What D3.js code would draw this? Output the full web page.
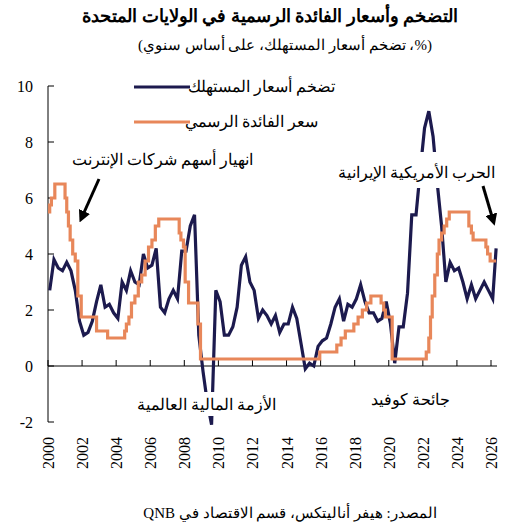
<!DOCTYPE html><html><head><meta charset="utf-8"><script src="https://cdn.jsdelivr.net/npm/d3@7"></script>
<style>body{margin:0;background:#fff}text{font-family:"Liberation Serif","DejaVu Serif",serif}</style></head><body><svg id="c" width="519" height="526"></svg>
<script>
const cpiYears=[];for(let y=2000;y<=2026;y++)for(let q=0;q<4;q++)cpiYears.push(y+q*0.25+0.1);
const cpiValues=[2.7,3.8,3.5,3.4,3.7,3.4,2.7,1.6,1.1,1.2,1.6,2.3,2.9,2.1,2.2,1.9,1.7,3.0,2.7,3.4,3.0,2.9,4.0,3.5,3.6,4.2,2.1,1.9,2.4,2.7,2.4,4.1,4.1,5.0,5.4,1.1,-0.2,-1.3,-2.1,2.7,2.3,1.1,1.1,1.4,2.1,3.6,3.9,3.0,2.7,1.7,2.0,1.8,1.5,1.8,1.2,1.5,1.5,2.1,1.7,0.8,-0.1,0.1,0.0,0.7,0.9,1.0,1.5,2.1,2.4,1.6,2.2,2.1,2.4,2.9,2.3,1.9,1.9,1.6,1.7,2.3,1.5,0.1,1.4,1.4,2.6,5.4,5.4,7.0,8.5,9.1,8.2,6.5,5.0,3.0,3.7,3.4,3.5,3.0,2.4,2.9,2.4,2.7,3.0,2.7,2.4,4.2];
const cpiLen=cpiValues.length;
const fedDates=[2000,2000.1,2000.2,2000.4,2001.0,2001.1,2001.2,2001.3,2001.45,2001.6,2001.75,2001.95,2002.85,2003.5,2004.5,2004.6,2004.75,2004.9,2005.1,2005.3,2005.5,2005.7,2005.9,2006.1,2006.3,2006.5,2007.7,2007.8,2007.95,2008.05,2008.25,2008.8,2008.95,2015.95,2016.95,2017.2,2017.45,2017.95,2018.2,2018.45,2018.7,2018.95,2019.55,2019.7,2019.8,2020.2,2022.2,2022.35,2022.45,2022.55,2022.7,2022.85,2022.95,2023.1,2023.25,2023.4,2023.55,2024.7,2024.85,2024.95,2025.7,2025.8,2025.95,2026.3];
const fedValues=[5.5,5.75,6.0,6.5,6.0,5.5,5.0,4.5,4.0,3.75,2.5,1.75,1.25,1.0,1.25,1.5,1.75,2.25,2.5,3.0,3.25,3.75,4.25,4.5,5.0,5.25,4.75,4.5,4.25,3.0,2.25,1.5,0.25,0.5,0.75,1.0,1.25,1.5,1.75,2.0,2.25,2.5,2.25,2.0,1.75,0.25,0.5,1.0,1.75,2.5,3.25,4.0,4.5,4.75,5.0,5.25,5.5,5.0,4.75,4.5,4.25,4.0,3.75,3.75];
const yTicks=[-2,0,2,4,6,8,10];
const xTicks=d3.range(2000,2027,2);
const svg=d3.select("#c");
const x=d3.scaleLinear().domain([2000,2026]).range([48,491]);
const y=d3.scaleLinear().domain([-2,10]).range([422,86]);
svg.append("text").attr("x",270).attr("y",22).attr("text-anchor","middle").attr("font-size",18).attr("font-weight","bold").text("التضخم وأسعار الفائدة الرسمية في الولايات المتحدة");
svg.append("text").attr("x",285).attr("y",50).attr("text-anchor","middle").attr("direction","rtl").attr("font-size",15).text("(%، تضخم أسعار المستهلك، على أساس سنوي)");
svg.append("line").attr("x1",48).attr("x2",48).attr("y1",y(10)).attr("y2",y(-2)).attr("stroke","#000");
yTicks.forEach(t=>{svg.append("line").attr("x1",48).attr("x2",54).attr("y1",y(t)).attr("y2",y(t)).attr("stroke","#000");
svg.append("text").attr("x",33).attr("y",y(t)+6).attr("text-anchor","end").attr("font-size",16).text(t);});
svg.append("line").attr("x1",48).attr("x2",497).attr("y1",y(0)).attr("y2",y(0)).attr("stroke","#000");
xTicks.forEach(t=>{svg.append("line").attr("x1",x(t)).attr("x2",x(t)).attr("y1",y(0)).attr("y2",y(0)-6).attr("stroke","#000");
svg.append("text").attr("transform",`translate(${x(t)+6},${437}) rotate(-90)`).attr("text-anchor","end").attr("font-size",16).text(t);});
const line=d3.line().x(d=>x(d[0])).y(d=>y(d[1]));
svg.append("path").attr("d",line(cpiYears.slice(0,cpiLen).map((d,i)=>[Math.min(d,2026.3),cpiValues[i]]))).attr("fill","none").attr("stroke","#1c1a4e").attr("stroke-width",3.2);
svg.append("path").attr("d",d3.line().curve(d3.curveStepAfter).x(d=>x(d[0])).y(d=>y(d[1]))(fedDates.map((d,i)=>[d,fedValues[i]]))).attr("fill","none").attr("stroke","#e8875a").attr("stroke-width",3.2);
svg.append("rect").attr("x",130).attr("y",72).attr("width",215).attr("height",68).attr("fill","#fff");
svg.append("line").attr("x1",134).attr("x2",190).attr("y1",87).attr("y2",87).attr("stroke","#1c1a4e").attr("stroke-width",3.2);
svg.append("line").attr("x1",134).attr("x2",190).attr("y1",122).attr("y2",122).attr("stroke","#e8875a").attr("stroke-width",3.2);
svg.append("text").attr("x",335).attr("y",92).attr("text-anchor","end").attr("font-size",16).text("تضخم أسعار المستهلك");
svg.append("text").attr("x",318).attr("y",127).attr("text-anchor","end").attr("font-size",16).text("سعر الفائدة الرسمي");
svg.append("rect").attr("x",332).attr("y",152).attr("width",170).attr("height",36).attr("fill","#fff");
svg.append("rect").attr("x",135).attr("y",392).attr("width",145).attr("height",24).attr("fill","#fff");
svg.append("text").attr("x",162).attr("y",165).attr("text-anchor","middle").attr("font-size",16).text("انهيار أسهم شركات الإنترنت");
svg.append("text").attr("x",416).attr("y",178).attr("text-anchor","middle").attr("font-size",16).text("الحرب الأمريكية الإيرانية");
svg.append("text").attr("x",206).attr("y",410).attr("text-anchor","middle").attr("font-size",16).text("الأزمة المالية العالمية");
svg.append("text").attr("x",410).attr("y",405).attr("text-anchor","middle").attr("font-size",16).text("جائحة كوفيد");
svg.append("text").attr("x",290).attr("y",518).attr("text-anchor","middle").attr("direction","rtl").attr("font-size",15).text("المصدر: هيفر أناليتكس، قسم الاقتصاد في QNB");
const defs=svg.append("defs");
defs.append("marker").attr("id","ah").attr("viewBox","0 0 10 10").attr("refX",5).attr("refY",5).attr("markerWidth",4).attr("markerHeight",4).attr("orient","auto").append("path").attr("d","M0,0L10,5L0,10z").attr("fill","#000");
svg.append("line").attr("x1",99).attr("y1",179).attr("x2",82).attr("y2",217).attr("stroke","#000").attr("stroke-width",3).attr("marker-end","url(#ah)");
svg.append("line").attr("x1",483).attr("y1",186).attr("x2",493).attr("y2",220).attr("stroke","#000").attr("stroke-width",3).attr("marker-end","url(#ah)");
</script></body></html>
